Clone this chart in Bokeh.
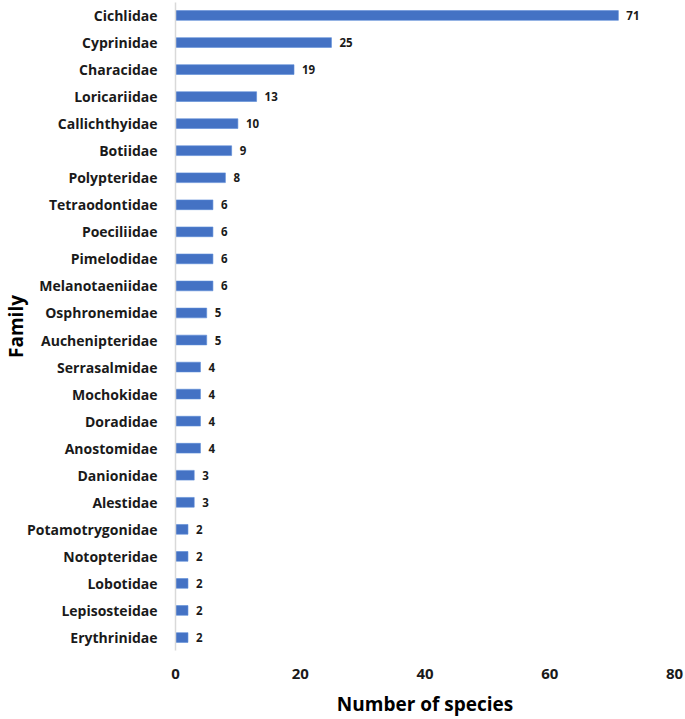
from bokeh.plotting import figure
from bokeh.models import Range1d, FixedTicker, ColumnDataSource
from bokeh.embed import file_html
from bokeh.resources import INLINE
from bokeh.core.properties import value

families = ["Cichlidae", "Cyprinidae", "Characidae", "Loricariidae", "Callichthyidae",
            "Botiidae", "Polypteridae", "Tetraodontidae", "Poeciliidae", "Pimelodidae",
            "Melanotaeniidae", "Osphronemidae", "Auchenipteridae", "Serrasalmidae",
            "Mochokidae", "Doradidae", "Anostomidae", "Danionidae", "Alestidae",
            "Potamotrygonidae", "Notopteridae", "Lobotidae", "Lepisosteidae", "Erythrinidae"]
species = [71, 25, 19, 13, 10, 9, 8, 6, 6, 6, 6, 5, 5, 4, 4, 4, 4, 3, 3, 2, 2, 2, 2, 2]
x_ticks = [0, 20, 40, 60, 80]

n = len(families)
ypos = [n - 1 - i for i in range(n)]
src = ColumnDataSource(dict(y=ypos, v=species, lbl=[str(s) for s in species]))

p = figure(width=685, height=719, output_backend="svg", toolbar_location=None,
           x_range=Range1d(0, 80), y_range=Range1d(-0.48, 23.48),
           min_border_left=175, min_border_right=11, min_border_top=2, min_border_bottom=67)

p.hbar(y="y", right="v", left=0, height=0.36, source=src,
       fill_color="#4472C4", line_color="#5B8BD6", line_width=0.6)
p.text(x="v", y="y", text="lbl", source=src, x_offset=8,
       text_baseline="middle", text_align="left", text_font=value("Open Sans"),
       text_font_style="bold", text_font_size="11.5px", text_color="#1a1a1a")

p.xgrid.visible = False
p.ygrid.visible = False
p.outline_line_color = None

xa = p.xaxis[0]
xa.ticker = FixedTicker(ticks=x_ticks)
xa.axis_line_color = None
xa.major_tick_line_color = None
xa.minor_tick_line_color = None
xa.major_tick_out = 0
xa.major_tick_in = 0
xa.major_label_text_font = "Open Sans"
xa.major_label_text_font_style = "bold"
xa.major_label_text_font_size = "15px"
xa.major_label_text_color = "#1a1a1a"
xa.major_label_standoff = 18
xa.axis_label = "Number of species"
xa.axis_label_text_font = "Open Sans"
xa.axis_label_text_font_style = "bold"
xa.axis_label_text_font_size = "19px"
xa.axis_label_text_color = "#000000"
xa.axis_label_standoff = 9

ya = p.yaxis[0]
ya.ticker = FixedTicker(ticks=ypos)
ya.major_label_overrides = {y: f for y, f in zip(ypos, families)}
ya.axis_line_color = "#D9D9D9"
ya.axis_line_width = 1.5
ya.major_tick_line_color = None
ya.minor_tick_line_color = None
ya.major_tick_out = 0
ya.major_tick_in = 0
ya.major_label_text_font = "Open Sans"
ya.major_label_text_font_style = "bold"
ya.major_label_text_font_size = "14px"
ya.major_label_text_color = "#1a1a1a"
ya.major_label_standoff = 18
ya.axis_label = "Family"
ya.axis_label_text_font = "Open Sans"
ya.axis_label_text_font_style = "bold"
ya.axis_label_text_font_size = "19px"
ya.axis_label_text_color = "#000000"
ya.axis_label_standoff = -5

open("out.html", "w").write(file_html(p, INLINE))
